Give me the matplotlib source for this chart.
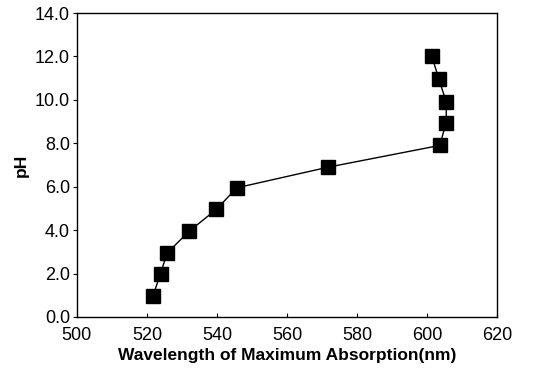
import numpy as np
import matplotlib
matplotlib.use("Agg")
import matplotlib.pyplot as plt

plt.rcParams['font.family'] = ['Liberation Sans', 'DejaVu Sans']

wavelength = [521.7, 523.9, 525.8, 532.1, 539.8, 545.7, 571.8, 603.6, 605.5, 605.5, 603.4, 601.4]
ph = [0.95, 2.0, 2.95, 3.95, 4.95, 5.95, 6.9, 7.9, 8.95, 9.9, 10.95, 12.0]

xticks = [500, 520, 540, 560, 580, 600, 620]
yticks = [0, 2, 4, 6, 8, 10, 12, 14]

fig = plt.figure(figsize=(5.45, 3.72), dpi=100)
ax = fig.add_axes([0.141, 0.148, 0.771, 0.817])

ax.plot(wavelength, ph, color="black", lw=1.0, marker="s", markersize=9.5,
        markerfacecolor="black", markeredgecolor="black")

ax.set_xlim(500, 620)
ax.set_ylim(0, 14)
ax.set_xticks(xticks)
ax.set_yticks(yticks)
ax.set_yticklabels([f"{v:.1f}" for v in yticks])
ax.tick_params(axis="x", direction="in", length=3, labelsize=13, pad=7)
ax.tick_params(axis="y", direction="out", length=3, labelsize=13, pad=2)

ax.set_xlabel("Wavelength of Maximum Absorption(nm)", fontsize=12.5, fontweight="bold", labelpad=3)
ax.set_ylabel("pH", fontsize=12.5, fontweight="bold", labelpad=4)

for s in ax.spines.values():
    s.set_linewidth(1.0)

fig.savefig("out.png", dpi=100)
